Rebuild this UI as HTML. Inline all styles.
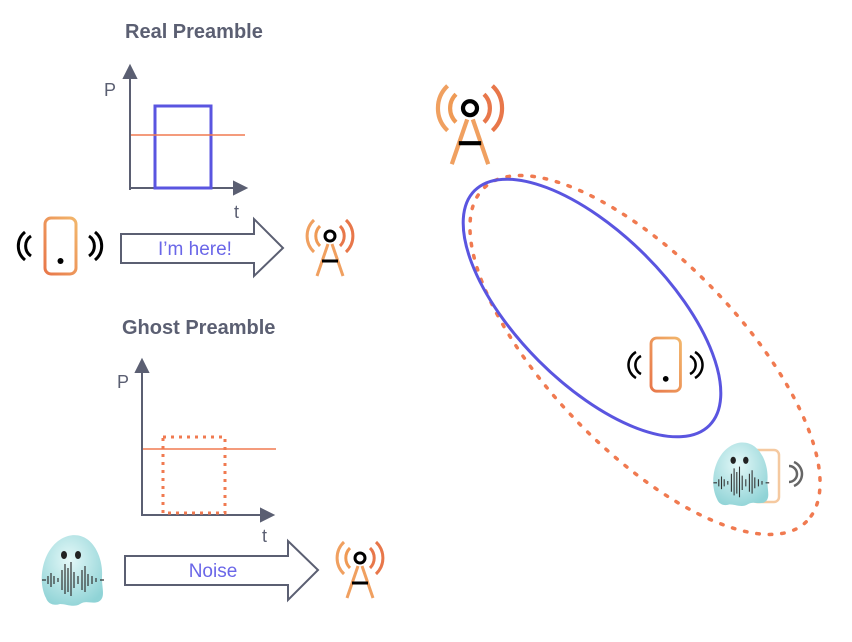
<!DOCTYPE html>
<html><head><meta charset="utf-8"><style>
html,body{margin:0;padding:0;background:#fff;}
svg{display:block;font-family:"Liberation Sans",sans-serif;}
</style></head><body>
<svg width="852" height="642" viewBox="0 0 852 642" xmlns="http://www.w3.org/2000/svg">
<defs>
<linearGradient id="og" x1="0" y1="1" x2="1" y2="0"><stop offset="0" stop-color="#e8774a"/><stop offset="1" stop-color="#f2b66b"/></linearGradient>
<radialGradient id="gg" cx="0.45" cy="0.35" r="0.7"><stop offset="0" stop-color="#e4f8f8"/><stop offset="1" stop-color="#8fd3d6"/></radialGradient>
<g id="tower">
 <path d="M-10,-22 A14,14 0 0 0 -10,-2" fill="none" stroke="#ef9a55" stroke-width="3"/>
 <path d="M-16,-28 A22,22 0 0 0 -16,4" fill="none" stroke="#f0a060" stroke-width="3"/>
 <path d="M10,-22 A14,14 0 0 1 10,-2" fill="none" stroke="#e8774a" stroke-width="3"/>
 <path d="M16,-28 A22,22 0 0 1 16,4" fill="none" stroke="#e8774a" stroke-width="3"/>
 <circle cx="0" cy="-12" r="5" fill="none" stroke="#000" stroke-width="3"/>
 <path d="M-2,-4 L-13,28 M2,-4 L13,28" stroke="#f0a060" stroke-width="3" fill="none"/>
 <path d="M-8,13 L8,13" stroke="#000" stroke-width="3"/>
</g>
<g id="phone">
 <rect x="0" y="0" width="31" height="56" rx="6" fill="none" stroke="url(#og)" stroke-width="3"/>
 <circle cx="15.5" cy="43" r="3" fill="#000"/>
</g>
<g id="ghost">
 <path d="M10,70 C0,50 8,15 32,8 C56,2 68,30 66,50 C66,62 70,70 62,74 C55,76 50,72 44,76 C38,80 30,76 24,76 C18,78 12,76 10,70Z" fill="url(#gg)"/>
 <ellipse cx="28" cy="27" rx="3" ry="4" fill="#222"/><ellipse cx="42" cy="27" rx="3" ry="4" fill="#222"/>
 <g stroke="#333" stroke-width="1.2">
  <path d="M6,52h4M12,48v8M15,45v14M18,48v8M22,50v4M26,42v20M29,36v30M32,40v24M35,34v34M38,44v16M42,48v8M46,42v20M49,38v26M52,46v12M56,48v8M60,50v4M64,52h4"/>
 </g>
</g>
</defs>

<text x="125" y="38" font-size="20" font-weight="bold" fill="#5b5f72">Real Preamble</text>
<g stroke="#5b5f72" stroke-width="2" fill="#5b5f72">
 <line x1="130" y1="190" x2="130" y2="74"/><path d="M124,78 L130,66 L136,78Z"/>
 <line x1="129" y1="188" x2="238" y2="188"/><path d="M234,182 L246,188 L234,194Z"/>
</g>
<text x="104" y="96" font-size="18" fill="#5b5f72">P</text>
<rect x="155" y="106" width="56" height="82" fill="none" stroke="#5a55e0" stroke-width="3"/>
<line x1="131" y1="135" x2="245" y2="135" stroke="#f07a50" stroke-width="1.5"/>
<text x="234" y="218" font-size="18" fill="#5b5f72">t</text>
<g transform="translate(45,218)"><use href="#phone"/></g>
<path d="M31,236 A12,12 0 0 0 31,256 M25,232 A18,18 0 0 0 25,260" fill="none" stroke="#000" stroke-width="3"/>
<path d="M89,236 A12,12 0 0 1 89,256 M95,232 A18,18 0 0 1 95,260" fill="none" stroke="#000" stroke-width="3"/>
<path d="M121,234 H254 V219 L283,248 L254,276 V263 H121Z" fill="#fff" stroke="#5b5f72" stroke-width="2"/>
<text x="195" y="255" font-size="19" fill="#6a66e8" text-anchor="middle">I’m here!</text>
<g transform="translate(330,248)"><use href="#tower"/></g>

<text x="122" y="334" font-size="20" font-weight="bold" fill="#5b5f72">Ghost Preamble</text>
<g stroke="#5b5f72" stroke-width="2" fill="#5b5f72">
 <line x1="142" y1="516" x2="142" y2="368"/><path d="M136,372 L142,360 L148,372Z"/>
 <line x1="141" y1="515" x2="265" y2="515"/><path d="M261,509 L273,515 L261,521Z"/>
</g>
<text x="117" y="388" font-size="18" fill="#5b5f72">P</text>
<line x1="143" y1="449" x2="276" y2="449" stroke="#f07a50" stroke-width="1.5"/>
<rect x="163" y="437" width="62" height="76" fill="none" stroke="#f07a50" stroke-width="3" stroke-dasharray="3,5"/>
<text x="262" y="542" font-size="18" fill="#5b5f72">t</text>
<g transform="translate(36,528)"><use href="#ghost"/></g>
<path d="M125,556 H288 V541 L318,570 L288,600 V585 H125Z" fill="#fff" stroke="#5b5f72" stroke-width="2"/>
<text x="213" y="577" font-size="19" fill="#6a66e8" text-anchor="middle">Noise</text>
<g transform="translate(360,570)"><use href="#tower"/></g>

<g transform="translate(470,125) scale(1.4)"><use href="#tower"/></g>
<ellipse cx="645" cy="355" rx="232" ry="95" transform="rotate(46 645 355)" fill="none" stroke="#f07a50" stroke-width="3.5" stroke-dasharray="2.5,10" stroke-linecap="round"/>
<ellipse cx="592" cy="308" rx="166" ry="75" transform="rotate(45 592 308)" fill="none" stroke="#5a55e0" stroke-width="3"/>
<g transform="translate(651,338) scale(0.95)"><use href="#phone"/></g>
<path d="M641,356 A10,10 0 0 0 641,374 M636,352 A15,15 0 0 0 636,378" fill="none" stroke="#000" stroke-width="2.5"/>
<path d="M690,356 A10,10 0 0 1 690,374 M695,352 A15,15 0 0 1 695,378" fill="none" stroke="#000" stroke-width="2.5"/>
<rect x="752" y="450" width="27" height="52" rx="5" fill="none" stroke="#f5c9a0" stroke-width="2.5"/>
<g transform="translate(708,436) scale(0.9)"><use href="#ghost"/></g>
<path d="M789,466 A8,8 0 0 1 789,482 M794,462 A13,13 0 0 1 794,486" fill="none" stroke="#666" stroke-width="2.5"/>
</svg>
</body></html>
